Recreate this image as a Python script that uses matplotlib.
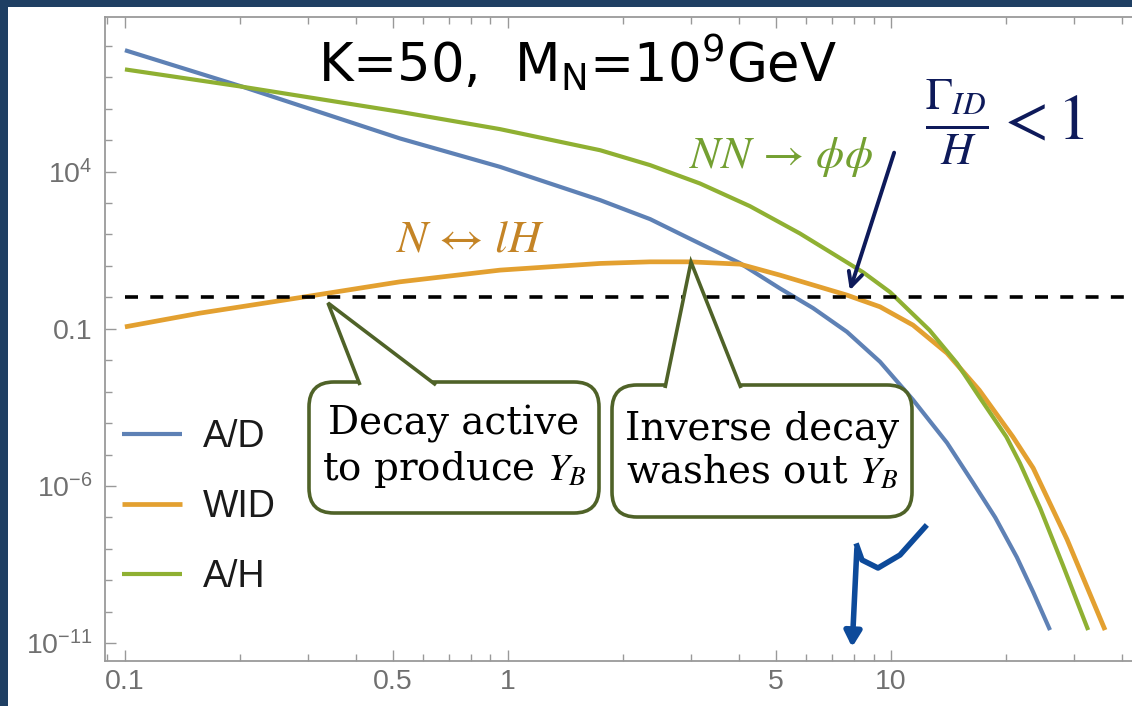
import matplotlib.pyplot as plt
from matplotlib.patches import FancyBboxPatch, Polygon, Rectangle
from matplotlib.ticker import FixedLocator, FixedFormatter, NullFormatter

plt.rcParams['font.family'] = ['Liberation Sans', 'DejaVu Sans']
plt.rcParams['mathtext.fontset'] = 'stix'

W, H = 1132, 706

# rates over Hubble
ad_x = [0.1, 0.203, 0.522, 0.953, 1.74, 2.35, 2.93, 4.03, 5.13, 6.26, 7.67, 9.36, 11.41,
        14.0, 16.37, 18.7, 21.3, 23.5, 26.0]
ad_y = [7.3e7, 5.0e6, 1.14e5, 1.42e4, 1.24e3, 308, 82, 12.3, 1.92, 0.454, 8.0e-2, 8.9e-3,
        5.5e-4, 2.35e-5, 1.26e-6, 1.0e-7, 5.4e-9, 4.2e-10, 2.6e-11]

wid_x = [0.1, 0.157, 0.286, 0.522, 0.953, 1.74, 2.35, 2.98, 4.03, 5.13, 7.67, 9.36, 11.41,
         14.0, 17.0, 20.8, 23.5, 28.8, 36.2]
wid_y = [0.115, 0.315, 0.98, 3.12, 7.35, 12.0, 13.5, 13.5, 11.4, 5.09, 1.18, 0.50, 0.131,
         1.68e-2, 1.11e-3, 3.65e-5, 3.7e-6, 2.0e-8, 2.6e-11]

ah_x = [0.1, 0.203, 0.522, 0.953, 1.74, 2.35, 3.17, 4.28, 5.78, 8.45, 9.94, 12.6, 14.85,
        17.0, 20.0, 21.7, 24.5, 28.1, 32.7]
ah_y = [1.79e7, 5.0e6, 8.0e5, 2.25e5, 4.8e4, 1.61e4, 4.2e3, 798, 108, 6.3, 1.47, 9.05e-2,
        8.1e-3, 6.8e-4, 3.65e-5, 5.3e-6, 1.97e-7, 3.0e-9, 2.6e-11]

threshold = 1.0

x_major = [0.1, 0.5, 1, 5, 10]
x_labels = ['0.1', '0.5', '1', '5', '10']
x_minor = [0.09, 0.2, 0.3, 0.4, 0.6, 0.7, 0.8, 0.9, 2, 3, 4, 6, 7, 8, 9, 20, 30, 40]
y_major = [1e4, 1e-1, 1e-6, 1e-11]
y_labels = [r'$\mathregular{10^{4}}$', '0.1', r'$\mathregular{10^{-6}}$', r'$\mathregular{10^{-11}}$']
y_minor = [10.0 ** k for k in range(-11, 9)]

c_ad, c_wid, c_ah = '#5E81B5', '#E3A030', '#8FB032'
box_edge = '#4F6228'


def px(x, y):
    # pixel position (from top left) -> figure fraction
    return x / W, 1 - y / H


fig = plt.figure(figsize=(W / 100, H / 100), dpi=100, facecolor='#1F3F63')
fig.add_artist(Rectangle((8 / W, 0), 1, 1 - 7 / H, transform=fig.transFigure,
                         facecolor='white', edgecolor='none', zorder=0))

ax = fig.add_axes([105 / W, 45 / H, 1047 / W, 644 / H])
ax.set_xscale('log')
ax.set_yscale('log')
ax.set_xlim(0.0887, 48.0)
ax.set_ylim(10 ** -11.57, 10 ** 8.92)

ax.plot(ad_x, ad_y, color=c_ad, lw=3, label='A/D', solid_capstyle='butt')
ax.plot(wid_x, wid_y, color=c_wid, lw=3.4, label='WID', solid_capstyle='butt')
ax.plot(ah_x, ah_y, color=c_ah, lw=3, label='A/H', solid_capstyle='butt')
ax.hlines(threshold, 0.1, 48, colors='black', lw=2.6, linestyles=(0, (3.6, 3.4)))

ax.xaxis.set_major_locator(FixedLocator(x_major))
ax.xaxis.set_major_formatter(FixedFormatter(x_labels))
ax.xaxis.set_minor_locator(FixedLocator(x_minor))
ax.xaxis.set_minor_formatter(NullFormatter())
ax.yaxis.set_major_locator(FixedLocator(y_major))
ax.yaxis.set_major_formatter(FixedFormatter(y_labels))
ax.yaxis.set_minor_locator(FixedLocator(y_minor))
ax.yaxis.set_minor_formatter(NullFormatter())
ax.tick_params(which='both', direction='in', top=True, right=True, color='#999999', width=1)
ax.tick_params(which='major', length=8, labelsize=20.5, labelcolor='#707070')
ax.tick_params(which='minor', length=5)
ax.tick_params(axis='x', pad=6)
ax.tick_params(axis='y', pad=9)
for s in ax.spines.values():
    s.set_color('#9a9a9a')
    s.set_linewidth(1.3)

leg = ax.legend(loc='upper left', bbox_to_anchor=(-0.009, 0.416), frameon=False,
                fontsize=27, handlelength=1.6, handletextpad=0.56, labelspacing=0.9,
                borderaxespad=0.3)
for t in leg.get_texts():
    t.set_color('#1a1a1a')

# reaction labels
fig.text(*px(470, 240), r'$N\,\leftrightarrow\,lH$', color='#C48426', fontsize=33,
         ha='center', va='center')
fig.text(*px(781, 157), r'$NN\,\rightarrow\,\phi\phi$', color='#74A032', fontsize=32.5,
         ha='center', va='center')


# callout boxes
def callout(x0, y0, x1, y1, base_l, base_r, tip, lines):
    bx, by = px(x0, y1)
    bw, bh = (x1 - x0) / W, (y1 - y0) / H
    fig.add_artist(FancyBboxPatch((bx, by), bw, bh, boxstyle='round,pad=0,rounding_size=0.022',
                                  transform=fig.transFigure, facecolor='white',
                                  edgecolor=box_edge, lw=2.6, zorder=5,
                                  mutation_aspect=W / H))
    wedge = [px(base_l, y0 + 3), px(*tip), px(base_r, y0 + 3)]
    fig.add_artist(Polygon(wedge, closed=False, transform=fig.transFigure, facecolor='white',
                           edgecolor=box_edge, lw=2.6, zorder=6, joinstyle='miter'))
    fig.text(*px((x0 + x1) / 2, (y0 + y1) / 2), lines, ha='center', va='center',
             fontsize=28, family='DejaVu Serif', color='black', zorder=7, linespacing=1.2)


callout(309, 382, 599, 513, 360, 436, (328, 303), 'Decay active\nto produce $Y_B$')
callout(612, 385, 912, 517, 665, 741, (691, 262), 'Inverse decay\nwashes out $Y_B$')

# hand-written notes
fig.text(*px(578, 62), r'K=50,  $\mathregular{M_N}$=$\mathregular{10^9}$GeV', fontsize=38,
         family='DejaVu Sans', color='black', ha='center', va='center')
fig.text(*px(1005, 122), r'$\frac{\Gamma_{ID}}{H}<1$', fontsize=46, color='#0E1A5A',
         ha='center', va='center')
ax.annotate('', xy=px(849, 293), xytext=px(895, 150), xycoords='figure fraction',
            textcoords='figure fraction',
            arrowprops=dict(arrowstyle='->,head_length=1.0,head_width=0.5', color='#0E1A5A', lw=2.8))
fig.add_artist(plt.Line2D([925 / W, 900 / W, 878 / W, 862 / W, 857 / W],
                          [1 - 527 / H, 1 - 555 / H, 1 - 568 / H, 1 - 560 / H, 1 - 546 / H],
                          transform=fig.transFigure, color='#0D4A9A', lw=4))
ax.annotate('', xy=px(852, 650), xytext=px(857, 546), xycoords='figure fraction',
            textcoords='figure fraction',
            arrowprops=dict(arrowstyle='-|>,head_length=0.9,head_width=0.5', color='#0D4A9A', lw=4,
                            fc='none'))

fig.savefig('out.png', dpi=100, facecolor=fig.get_facecolor())
